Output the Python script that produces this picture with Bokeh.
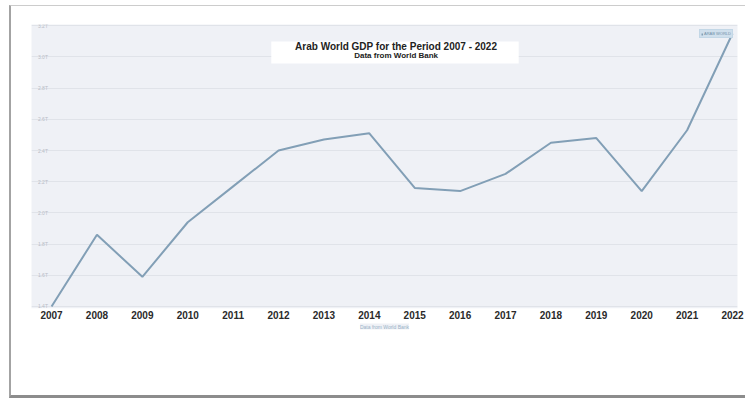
from bokeh.plotting import figure
from bokeh.models import (FixedTicker, BoxAnnotation, Label, Title, Range1d,
                          Legend, LegendItem)
from bokeh.embed import file_html
from bokeh.resources import INLINE
from bokeh.core.properties import value

# ---------------- data ----------------
years = [2007, 2008, 2009, 2010, 2011, 2012, 2013, 2014,
         2015, 2016, 2017, 2018, 2019, 2020, 2021, 2022]
gdp_trillions = [1.40, 1.86, 1.59, 1.94, 2.17, 2.40, 2.47, 2.51,
                 2.16, 2.14, 2.25, 2.45, 2.48, 2.14, 2.53, 3.15]
y_ticks = [1.4, 1.6, 1.8, 2.0, 2.2, 2.4, 2.6, 2.8, 3.0, 3.2]
y_tick_labels = ["1.4T", "1.6T", "1.8T", "2.0T", "2.2T",
                 "2.4T", "2.6T", "2.8T", "3.0T", "3.2T"]
x_tick_labels = [str(y) for y in years]
title_text = "Arab World GDP for the Period 2007 - 2022"
subtitle_text = "Data from World Bank"
source_text = "Data from World Bank"
series_name = "ARAB WORLD"

FONT = "Liberation Sans"
PANEL = "#eff1f6"

p = figure(width=736, height=393, output_backend="svg", toolbar_location=None,
           x_range=Range1d(2006.558, 2022.11), y_range=Range1d(1.387, 3.208),
           min_border_left=20, min_border_right=10, min_border_top=18,
           min_border_bottom=91)

p.styles = {"margin-left": "9px", "margin-top": "5px",
            "border-left": "2px solid #a3a3a3",
            "border-top": "1px solid #cccccc",
            "border-bottom": "3px solid #8c8c8c"}

p.background_fill_color = PANEL
p.border_fill_color = "white"
p.outline_line_color = None

p.yaxis.visible = False
p.xgrid.visible = False
p.ygrid.ticker = FixedTicker(ticks=y_ticks)
p.ygrid.grid_line_color = "#e0e3e9"
p.ygrid.grid_line_width = 1

ax = p.xaxis[0]
ax.ticker = FixedTicker(ticks=years)
ax.major_label_overrides = {y: s for y, s in zip(years, x_tick_labels)}
ax.axis_line_color = None
ax.major_tick_line_color = None
ax.minor_tick_line_color = None
ax.major_tick_out = 0
ax.major_tick_in = 0
ax.minor_tick_out = 0
ax.minor_tick_in = 0
ax.major_label_text_font = FONT
ax.major_label_text_font_style = "bold"
ax.major_label_text_font_size = "10px"
ax.major_label_text_color = "#2a2a2a"
ax.major_label_standoff = 2
ax.background_fill_color = "white"

# y tick labels drawn inside the panel
p.text(x=[2006.70] * len(y_ticks), y=y_ticks, text=y_tick_labels,
       text_font=value(FONT), text_font_size="5px", text_color="#b8bdc7",
       text_align="left", text_baseline="middle")

r = p.line(years, gdp_trillions, line_color="#829fb6", line_width=2)

legend = Legend(items=[LegendItem(label=series_name, renderers=[r])],
                location=(668, 270), margin=0, padding=1, spacing=0,
                glyph_width=2, glyph_height=4, label_height=4,
                label_standoff=1, label_text_font_size="4px",
                label_text_color="#7090a8", background_fill_color="#cfdfec",
                background_fill_alpha=1, border_line_color="#b8cfe0")
p.add_layout(legend)

# title box
p.add_layout(BoxAnnotation(left=2011.84, right=2017.29, top=3.099, bottom=2.958,
                           fill_color="white", fill_alpha=1, line_color=None))
p.add_layout(Label(x=2014.59, y=3.064, text=title_text, text_align="center",
                   text_baseline="middle", text_font=FONT,
                   text_font_style="bold", text_font_size="10px",
                   text_color="#222222"))
p.add_layout(Label(x=2014.59, y=3.009, text=subtitle_text, text_align="center",
                   text_baseline="middle", text_font=FONT,
                   text_font_style="bold", text_font_size="8px",
                   text_color="#222222"))

p.add_layout(Title(text=source_text, align="center", text_font=FONT,
                   text_font_size="5px", text_font_style="normal",
                   text_color="#9ab1c6", background_fill_color=PANEL,
                   standoff=0), "below")

open("out.html", "w").write(file_html(p, INLINE))
